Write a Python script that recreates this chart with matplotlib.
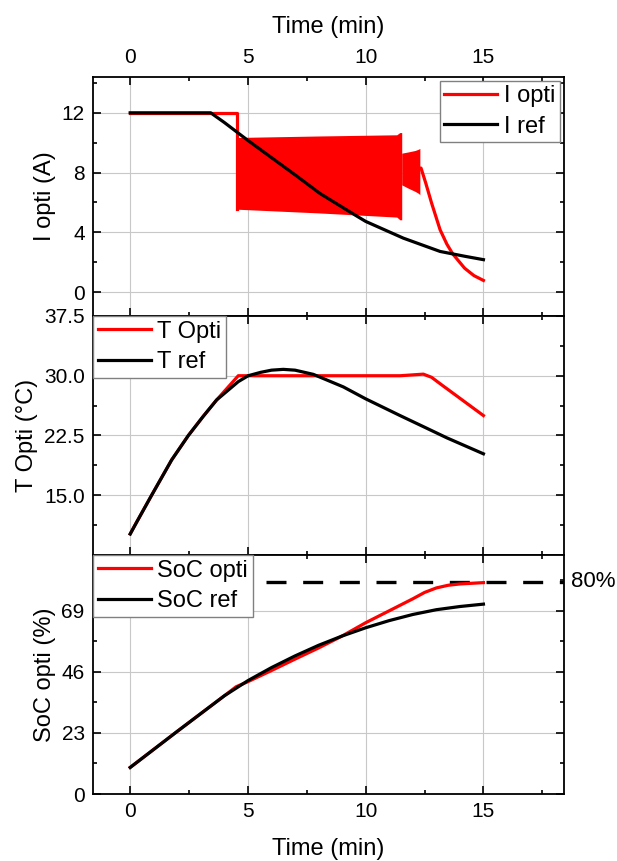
import matplotlib
matplotlib.use('Agg')
import matplotlib.pyplot as plt
from matplotlib.ticker import MultipleLocator
import matplotlib.transforms as mtransforms

plt.rcParams['font.family'] = ['Liberation Sans', 'DejaVu Sans']
plt.rcParams['font.size'] = 15

# ---- data ----
# current
t_iopti_flat = [0, 4.52, 4.52]
i_opti_flat = [12, 12, 5.55]
# fast switching region, drawn as its envelope
t_band1 = [4.52, 8.0, 11.32, 11.45, 11.53]
band1_hi = [10.35, 10.45, 10.53, 10.68, 10.68]
band1_lo = [5.55, 5.3, 5.02, 4.84, 4.84]
t_band2 = [11.53, 11.8, 12.1, 12.25, 12.3]
band2_hi = [9.3, 9.38, 9.48, 9.57, 9.62]
band2_lo = [7.18, 6.96, 6.74, 6.6, 6.51]
t_idecay = [12.25, 12.35, 12.55, 12.8, 13.16, 13.45, 13.7, 14.2, 14.6, 15.0]
i_decay = [8.3, 8.3, 7.3, 5.95, 4.17, 3.2, 2.55, 1.6, 1.1, 0.78]

t_iref = [0, 3.42, 4, 5, 6, 7, 8.06, 9.41, 10, 11.6, 13.16, 14.2, 15]
i_ref = [12, 12, 11.35, 10.15, 9.0, 7.85, 6.6, 5.29, 4.73, 3.61, 2.72, 2.4, 2.17]

# temperature
t_topti = [0, 0.27, 0.91, 1.76, 2.47, 3.1, 3.67, 4.59, 11.46, 12.45, 12.8,
           13.16, 15.0]
T_opti = [10.14, 11.6, 15.0, 19.43, 22.5, 24.9, 26.96, 30.0, 30.0, 30.2, 29.8,
          29.0, 25.0]
t_tref = [0, 0.27, 0.91, 1.76, 2.47, 3.1, 3.67, 4.59, 5.01, 5.53, 6.0, 6.5,
          7.0, 7.78, 9.05, 10, 11.46, 12.6, 13.45, 15]
T_ref = [10.14, 11.6, 15.0, 19.43, 22.5, 24.9, 26.96, 29.26, 30.0, 30.42, 30.7,
         30.8, 30.7, 30.17, 28.6, 27.1, 25.0, 23.4, 22.2, 20.2]

# state of charge
t_soc = [0, 1, 2, 3, 4, 4.5, 5, 6, 7, 8, 9, 10, 11, 12, 12.5, 13, 13.5, 14, 15]
soc_opti = [10, 16.8, 23.6, 30.3, 37, 40.4, 42.3, 46.5, 50.8, 55, 59.5, 64.5,
            69, 73.5, 75.9, 77.6, 78.6, 79.1, 79.6]
t_socref = [0, 1, 2, 3, 4, 5, 6, 7, 8, 9, 10, 11, 12, 13, 14, 15]
soc_ref = [10, 16.8, 23.6, 30.3, 37, 42.7, 47.6, 52, 56, 59.5, 62.6, 65.3,
           67.6, 69.4, 70.6, 71.5]
soc_target = 80
t_target = [5.75, 18.4]

xticks = [0, 5, 10, 15]

fig = plt.figure(figsize=(6.17, 8.61), dpi=100)
left, width, h = 0.1507, 0.7626, 0.2776
ax1 = fig.add_axes([left, 0.6330, width, h])
ax2 = fig.add_axes([left, 0.3554, width, h])
ax3 = fig.add_axes([left, 0.0778, width, h])

lw = 2.3
red = '#ff0000'

# top panel
ax1.fill_between(t_band1, band1_lo, band1_hi, color=red, lw=0, zorder=3)
ax1.fill_between(t_band2, band2_lo, band2_hi, color=red, lw=0, zorder=3)
ax1.plot(t_iopti_flat, i_opti_flat, color=red, lw=lw, zorder=3, label='I opti')
ax1.plot(t_idecay, i_decay, color=red, lw=lw, zorder=3)
ax1.plot(t_iref, i_ref, color='k', lw=lw, zorder=4, label='I ref')
ax1.set_ylim(-1.6, 14.4)
ax1.set_yticks([0, 4, 8, 12])
ax1.yaxis.set_minor_locator(MultipleLocator(2))
ax1.set_ylabel('I opti (A)', fontsize=17, labelpad=4)
ax1.xaxis.set_label_position('top')
ax1.set_xlabel('Time (min)', fontsize=17, labelpad=11)

# middle panel
ax2.plot(t_topti, T_opti, color=red, lw=lw, zorder=3, label='T Opti')
ax2.plot(t_tref, T_ref, color='k', lw=lw, zorder=4, label='T ref')
ax2.set_ylim(7.5, 37.5)
ax2.set_yticks([15, 22.5, 30, 37.5])
ax2.set_yticklabels(['15.0', '22.5', '30.0', '37.5'])
ax2.yaxis.set_minor_locator(MultipleLocator(3.75))
ax2.set_ylabel('T Opti (°C)', fontsize=17, labelpad=4)

# bottom panel
ax3.plot(t_soc, soc_opti, color=red, lw=lw, zorder=3, label='SoC opti')
ax3.plot(t_socref, soc_ref, color='k', lw=lw, zorder=4, label='SoC ref')
ax3.plot(t_target, [soc_target, soc_target], color='k', lw=2.4,
         dashes=(6, 5), zorder=2)
trans = mtransforms.blended_transform_factory(ax3.transAxes, ax3.transData)
ax3.text(1.016, soc_target, '80%', transform=trans, fontsize=16,
         va='center', ha='left')
ax3.set_ylim(0, 90)
ax3.set_yticks([0, 23, 46, 69])
ax3.yaxis.set_minor_locator(MultipleLocator(11.5))
ax3.set_ylabel('SoC opti (%)', fontsize=17, labelpad=4)
ax3.set_xlabel('Time (min)', fontsize=17, labelpad=12)

for ax in (ax1, ax2, ax3):
    ax.set_xlim(-1.58, 18.4)
    ax.set_xticks(xticks)
    ax.xaxis.set_minor_locator(MultipleLocator(2.5))
    ax.grid(True, which='major', color='#c8c8c8', lw=0.8, zorder=0)
    ax.set_axisbelow(True)
    for s in ax.spines.values():
        s.set_linewidth(1.3)
    ax.tick_params(which='both', direction='in', top=True, right=True,
                   width=1.2, labelsize=15)
    ax.tick_params(which='major', length=6)
    ax.tick_params(which='minor', length=3)
    ax.tick_params(axis='y', pad=6)

ax1.tick_params(axis='x', labeltop=True, labelbottom=False, pad=7)
ax2.tick_params(axis='x', labeltop=False, labelbottom=False)
ax3.tick_params(axis='x', labeltop=False, labelbottom=True, pad=6)

leg_kw = dict(fontsize=17, frameon=True, fancybox=False, framealpha=1,
              edgecolor='#808080', handlelength=2.25, handletextpad=0.27,
              borderpad=0.2, labelspacing=0.35)
l1 = ax1.legend(loc='upper right', borderaxespad=0.15, **leg_kw)
l2 = ax2.legend(loc='upper left', borderaxespad=0.0, **leg_kw)
l3 = ax3.legend(loc='upper left', borderaxespad=0.0, **leg_kw)
for l in (l1, l2, l3):
    l.get_frame().set_linewidth(1.0)
    l.set_zorder(5)

fig.savefig('out.png', dpi=100)
